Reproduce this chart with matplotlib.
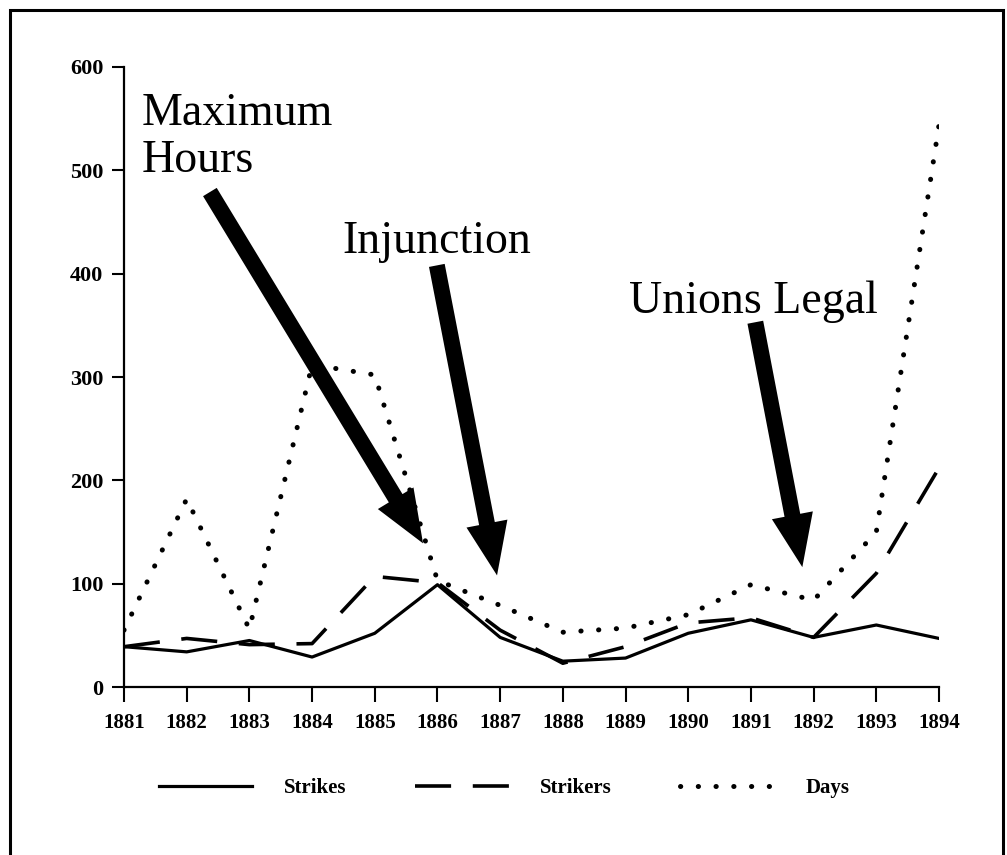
import matplotlib.pyplot as plt
from matplotlib.patches import Rectangle

# strike activity by year
years = [1881, 1882, 1883, 1884, 1885, 1886, 1887, 1888, 1889, 1890, 1891, 1892, 1893, 1894]
strikes = [39, 34, 45, 29, 52, 99, 48, 25, 28, 52, 65, 48, 60, 47]
strikers = [39, 47, 41, 42, 107, 101, 55, 23, 39, 62, 67, 48, 110, 212]
days = [55, 182, 56, 312, 302, 103, 79, 53, 57, 70, 99, 84, 150, 544]
y_ticks = [0, 100, 200, 300, 400, 500, 600]

# annotations: label, arrow tail (year, value), arrow tip (year, value)
events = ["Maximum\nHours", "Injunction", "Unions Legal"]
arrow_tails = [(1882.37, 479), (1885.99, 408), (1891.07, 353)]
arrow_tips = [(1885.77, 139), (1886.95, 108), (1891.82, 116)]

W, H = 1007, 855
fig = plt.figure(figsize=(W / 100, H / 100), dpi=100)
fig.patch.set_facecolor('white')

ax = fig.add_axes([124 / W, 1 - 687 / H, (939 - 124) / W, (687 - 67) / H])

ax.plot(years, strikes, color='black', lw=2.3, label='Strikes', solid_joinstyle='round')
ax.plot(years, strikers, color='black', lw=2.6, dashes=(10, 6), label='Strikers')
ax.plot(years, days, color='black', lw=3.6, linestyle=(0, (0.05, 3.5)),
        dash_capstyle='round', label='Days')

ax.set_xlim(years[0], years[-1])
ax.set_ylim(0, 600)
ax.set_xticks(years)
ax.set_yticks(y_ticks)

serif = 'Liberation Serif'
ax.set_xticklabels([str(y) for y in years], family=serif, weight='bold', fontsize=15)
ax.set_yticklabels([str(v) for v in y_ticks], family=serif, weight='bold', fontsize=16)
ax.tick_params(axis='x', length=11, width=1.5, pad=8, direction='out')
ax.tick_params(axis='y', length=9, width=1.5, pad=6, direction='out')

for side in ['top', 'right']:
    ax.spines[side].set_visible(False)
for side in ['left', 'bottom']:
    ax.spines[side].set_linewidth(1.6)

# big black arrows
for tail, tip in zip(arrow_tails, arrow_tips):
    ax.annotate('', xy=tip, xytext=tail,
                arrowprops=dict(arrowstyle='simple,head_length=0.38,head_width=0.3,tail_width=0.115',
                                mutation_scale=100, color='black', lw=0,
                                shrinkA=0, shrinkB=0))

# event labels (placed in figure pixels)
fig.text(142 / W, 1 - 125 / H, 'Maximum', family=serif, fontsize=33, va='baseline', ha='left')
fig.text(142 / W, 1 - 172 / H, 'Hours', family=serif, fontsize=33, va='baseline', ha='left')
fig.text(342 / W, 1 - 253 / H, events[1], family=serif, fontsize=33, va='baseline', ha='left')
fig.text(629 / W, 1 - 313 / H, events[2], family=serif, fontsize=33, va='baseline', ha='left')

leg = fig.legend(loc='center', bbox_to_anchor=(504 / W, 1 - 788 / H), ncol=3,
                 frameon=False, handlelength=4.5, handletextpad=1.5, columnspacing=3.3,
                 prop=dict(family=serif, weight='bold', size=15))

# outer frame
fig.patches.append(Rectangle((10 / W, -0.05), (1003 - 10) / W, 1.05 - 10 / H,
                             transform=fig.transFigure, fill=False, lw=2.2,
                             edgecolor='black', clip_on=False))

fig.savefig('out.png', dpi=100)
